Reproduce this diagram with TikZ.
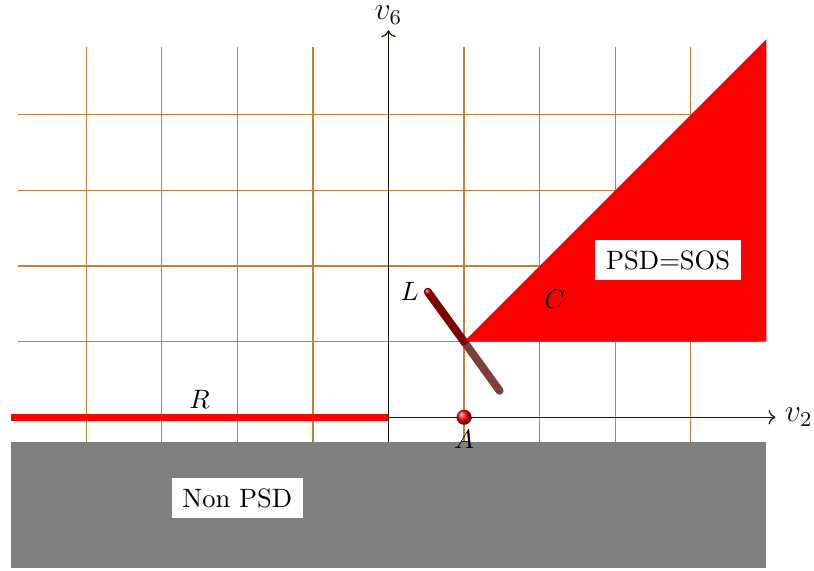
\documentclass[tikz,border=0pt]{standalone}
\usetikzlibrary{arrows.meta}
\begin{document}
\begin{tikzpicture}[
  gridline/.style={brown!90!orange, line width=0.45pt},
  axisline/.style={black!85!brown, line width=0.45pt, ->},
  lbl/.style={fill=white, inner sep=4pt},
  lseg/.style={line width=3pt, line cap=round}
]
\definecolor{lowseg}{RGB}{125,62,62}
\useasboundingbox (-5.14,-2.03) rectangle (5.63,5.52);
\coordinate (xs) at (-5,0);
\coordinate (xe) at (5.12,0);
\coordinate (ys) at (0,-0.4);
\coordinate (ye) at (0,5.12);
\draw[gridline] (-4.9,-0.4) grid (4.9,4.9);
\draw[axisline] (xs) -- (xe) node[right] (v2) {\large $v_2$};
\draw[axisline] (ys) -- (ye) node[above, inner sep=2pt] (v6) {\large $v_6$};
\fill[gray] (-5,-2) rectangle (5,-0.33);
\node[lbl] (nonpsd) at (-2,-1.07) {Non PSD};
\coordinate (c1) at (1,1);
\coordinate (c2) at (5,1);
\coordinate (c3) at (5,5);
\fill[red] (c1) -- (c2) -- (c3) -- cycle;
\node (C) at (2.2,1.56) {$C$};
\node[lbl] (psd) at (3.7,2.08) {PSD=SOS};
\coordinate (r1) at (-5,0);
\coordinate (r2) at (0,0);
\draw[red, line width=2.6pt] (r1) -- (r2);
\node (R) at (-2.5,0.24) {$R$};
\coordinate (l1) at (0.52,1.66);
\coordinate (l2) at (1.47,0.35);
\draw[lseg, lowseg] (c1) -- (l2);
\draw[lseg, red!50!black] (l1) -- (c1);
\shade[ball color=red] (l1) circle (0.045);
\node (L) at (0.28,1.67) {$L$};
\shade[ball color=red] (1,0) circle (0.1);
\node (A) at (1,-0.29) {$A$};
\end{tikzpicture}
\end{document}
